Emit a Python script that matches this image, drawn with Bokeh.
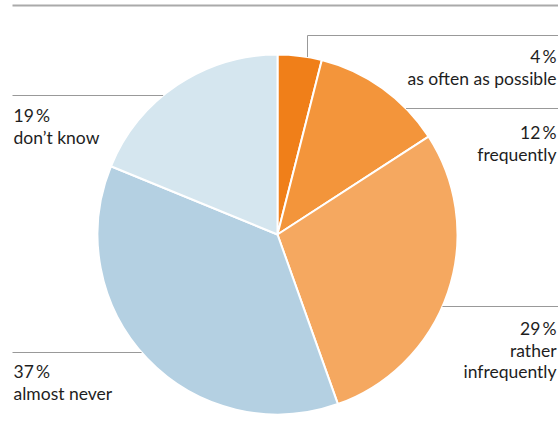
import math
from bokeh.plotting import figure
from bokeh.models import Range1d
from bokeh.core.properties import value
from bokeh.embed import file_html
from bokeh.resources import INLINE

categories = ["as often as possible", "frequently", "rather infrequently", "almost never", "don\u2019t know"]
shares = [4, 12, 29, 37, 19]
colors = ["#f07f19", "#f3953b", "#f5a860", "#b4d0e2", "#d5e6ef"]
label_lines = [["4\u2009%", "as often as possible"], ["12\u2009%", "frequently"],
               ["29\u2009%", "rather", "infrequently"], ["37\u2009%", "almost never"],
               ["19\u2009%", "don\u2019t know"]]

W, H = 558, 426
cx, cy, R = 277, H - 234, 180

p = figure(width=W, height=H, output_backend="svg", toolbar_location=None,
           x_range=Range1d(0, W), y_range=Range1d(0, H), min_border=0)
p.axis.visible = False
p.grid.visible = False
p.outline_line_color = None
p.background_fill_color = "white"

total = sum(shares)
cum = 0
starts, ends = [], []
for s in shares:
    a0 = math.pi / 2 - 2 * math.pi * cum / total
    cum += s
    a1 = math.pi / 2 - 2 * math.pi * cum / total
    starts.append(a1)
    ends.append(a0)

p.wedge(x=[cx] * len(shares), y=[cy] * len(shares), radius=R, start_angle=starts, end_angle=ends,
        fill_color=colors, line_color="white", line_width=2)

# top rule
p.segment(x0=[12], y0=[H - 5], x1=[W], y1=[H - 5], line_color="#aaaaaa", line_width=2)

lc = "#999999"
def edge_x(py, side):
    dy = (H - py) - cy
    dx = math.sqrt(max(R * R - dy * dy, 0))
    return cx + dx if side > 0 else cx - dx

# 4% leader: vertical then horizontal
vx = 307
vy = cy + math.sqrt(R * R - (vx - cx) ** 2)
p.line(x=[vx, vx, W], y=[vy, H - 35, H - 35], line_color=lc, line_width=1)
# others
for py, side in [(108, 1), (306, 1), (95, -1), (352, -1)]:
    ex = edge_x(py, side)
    if side > 0:
        p.segment(x0=[ex], y0=[H - py], x1=[W], y1=[H - py], line_color=lc, line_width=1)
    else:
        p.segment(x0=[12], y0=[H - py], x1=[ex], y1=[H - py], line_color=lc, line_width=1)

# labels: (index, x, first baseline, align)
layout = [(0, 556, 56, "right"), (1, 556, 132, "right"), (2, 556, 328, "right"),
          (3, 13, 371, "left"), (4, 13, 115, "left")]
lh = 21.5
for idx, x, y0, align in layout:
    lines = label_lines[idx]
    xs = [x] * len(lines)
    ys = [H - (y0 + i * lh) for i in range(len(lines))]
    p.text(x=xs, y=ys, text=lines, text_font=value("Lato"), text_font_size="17.5px",
           text_color="#1e1e1e", text_align=align, text_baseline="alphabetic")

open("out.html", "w").write(file_html(p, INLINE))
